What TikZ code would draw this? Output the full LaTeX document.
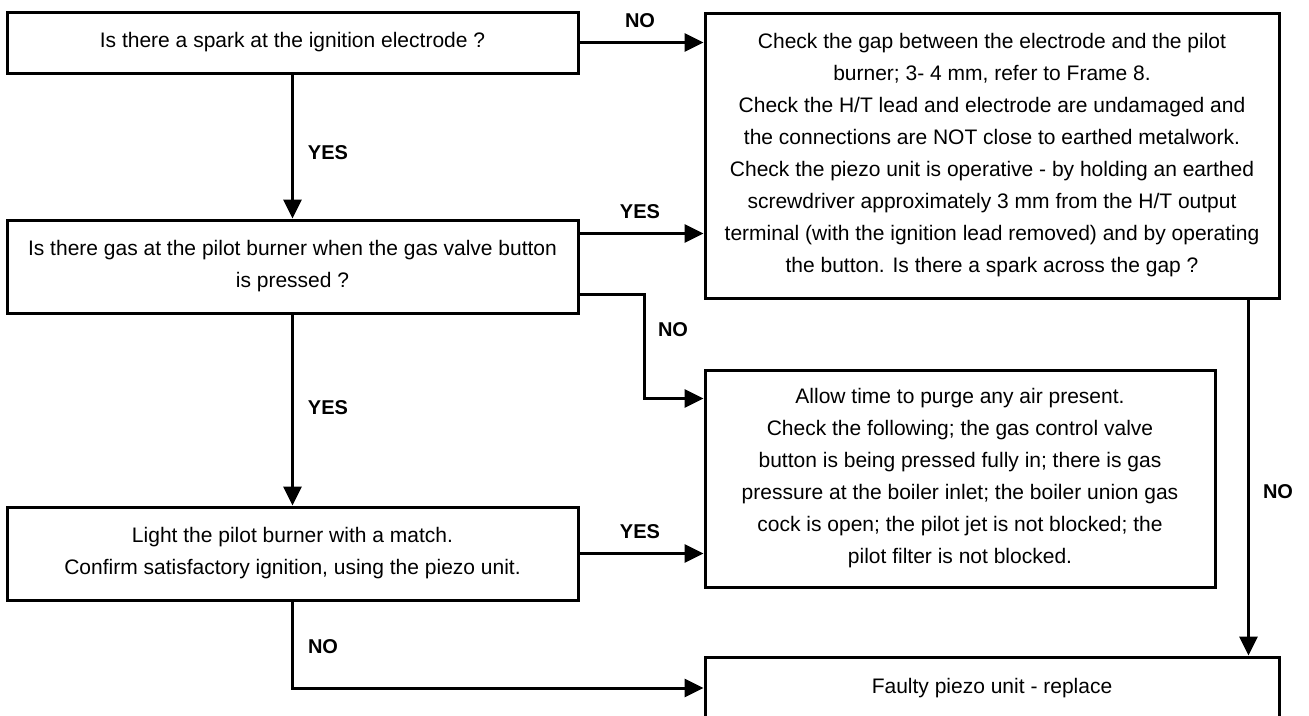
\documentclass[tikz,border=0pt]{standalone}
\usepackage{fontspec}
\setmainfont{Liberation Sans}
\usetikzlibrary{arrows.meta,calc,positioning}
\tikzset{
  stepbox/.style={
    draw,
    line width=3pt,
    align=center,
    inner sep=0pt,
    font=\fontsize{21}{32}\selectfont
  },
  flow/.style={
    line width=3pt,
    -{Triangle[length=19pt,width=18pt]}
  },
  answer/.style={
    font=\fontsize{20}{24}\selectfont\bfseries,
    inner sep=0pt
  },
}

\begin{document}
\begin{tikzpicture}[x=1pt,y=-1pt]
    \useasboundingbox (0,0) rectangle (1309,715);
    \clip (0,0) rectangle (1309,715);
        \node[stepbox, minimum width=571pt, minimum height=61pt] (spark) at (292.5,42.5) {Is there a spark at the ignition electrode ?};
        \node[stepbox, minimum width=571pt, minimum height=93pt] (gas) at (292.5,266.5) {Is there gas at the pilot burner when the gas valve button\\ is pressed ?};
        \node[stepbox, minimum width=571pt, minimum height=93pt] (light) at (292.5,553.5) {Light the pilot burner with a match.\\ Confirm satisfactory ignition, using the piezo unit.};
        \node[stepbox, minimum width=574pt, minimum height=285pt] (check) at (992,155.5) {Check the gap between the electrode and the pilot\\ burner; 3- 4 mm, refer to Frame 8.\\ Check the H/T lead and electrode are undamaged and\\ the connections are NOT close to earthed metalwork.\\ Check the piezo unit is operative - by holding an earthed\\ screwdriver approximately 3 mm from the H/T output\\ terminal (with the ignition lead removed) and by operating\\ the button. Is there a spark across the gap ?};
        \node[stepbox, minimum width=510pt, minimum height=217pt] (purge) at (960,478.5) {Allow time to purge any air present.\\ Check the following; the gas control valve\\ button is being pressed fully in; there is gas\\ pressure at the boiler inlet; the boiler union gas\\ cock is open; the pilot jet is not blocked; the\\ pilot filter is not blocked.};
        \node[stepbox, minimum width=574pt, minimum height=62pt] (faulty) at (992,688) {Faulty piezo unit - replace};
        \coordinate (gasyes) at ($(gas.north east)+(0,15)$);
        \coordinate (gasno) at ($(gas.south east)+(0,-20)$);
        \coordinate (purgein) at ($(purge.north west)+(0,30)$);
        \coordinate (checkno) at ($(check.south east)+(-32,0)$);
        \draw[flow] (spark.east) -- (spark.east -| check.west);
        \draw[flow] (spark.south) -- (gas.north);
        \draw[flow] (gasyes) -- (gasyes -| check.west);
        \draw[flow] (gasno) -- ++(65,0) |- (purgein);
        \draw[flow] (gas.south) -- (light.north);
        \draw[flow] (light.east) -- (light.east -| purge.west);
        \draw[flow] (light.south) |- (faulty.west);
        \draw[flow] (checkno) -- (checkno |- faulty.north);
        \node[answer] (no1) at (640,21) {NO};
        \node[answer] (yes1) at (328,153) {YES};
        \node[answer] (yes2) at (640,212) {YES};
        \node[answer] (no2) at (673,330) {NO};
        \node[answer] (yes3) at (328,408) {YES};
        \node[answer] (yes4) at (640,532) {YES};
        \node[answer] (no3) at (323,647) {NO};
        \node[answer] (no4) at (1278,492) {NO};
    \end{tikzpicture}
\end{document}
